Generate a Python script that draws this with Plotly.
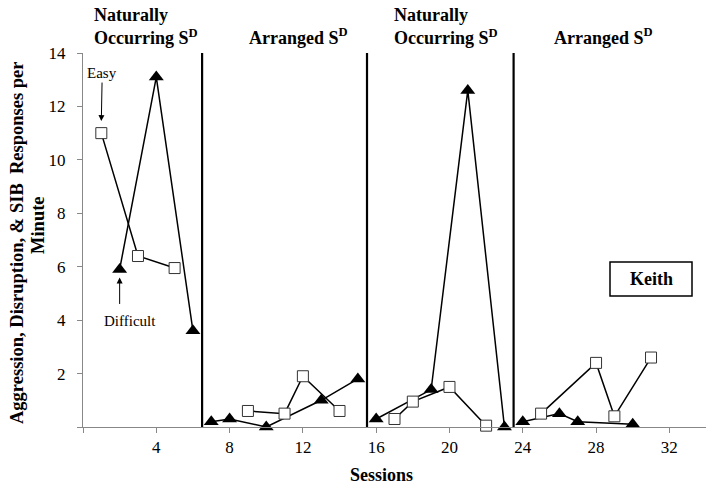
import plotly.graph_objects as go

# ---- data ----
easy_sessions = [1, 3, 5, None, 9, 11, 12, 14, None, 17, 18, 20, 22, None, 25, 28, 29, 31]
easy_rates = [11.0, 6.4, 5.95, None, 0.6, 0.5, 1.9, 0.6, None, 0.3, 0.95, 1.5, 0.05, None, 0.5, 2.4, 0.4, 2.6]

difficult_sessions = [2, 4, 6, None, 7, 8, 10, 13, 15, None, 16, 19, 21, 23, None, 24, 26, 27, 30]
difficult_rates = [5.9, 13.1, 3.6, None, 0.2, 0.3, 0.0, 1.0, 1.8, None, 0.3, 1.4, 12.6, 0.0, None, 0.2, 0.5, 0.2, 0.1]

phase_change_sessions = [6.5, 15.5, 23.5]
phase_labels = ["Naturally<br>Occurring S<sup>D</sup>", "Arranged S<sup>D</sup>",
                "Naturally<br>Occurring S<sup>D</sup>", "Arranged S<sup>D</sup>"]

x_tickvals = [0, 4, 8, 12, 16, 20, 24, 28, 32]
x_ticktext = ["", "4", "8", "12", "16", "20", "24", "28", "32"]
y_tickvals = [0, 2, 4, 6, 8, 10, 12, 14]
y_ticktext = ["", "2", "4", "6", "8", "10", "12", "14"]

y_title_lines = ["Aggression, Disruption, & SIB  Responses per", "Minute"]
x_title = "Sessions"

# ---- layout helpers ----
W, H = 714, 488
ML, MR, MT, MB = 83, 8, 53, 61
PW, PH = W - ML - MR, H - MT - MB


def px_x(p):
    return (p - ML) / PW


def px_y(p):
    return (H - MB - p) / PH


FONT = "Liberation Serif"

fig = go.Figure()

fig.add_trace(go.Scatter(
    x=difficult_sessions, y=difficult_rates, mode="lines+markers",
    line=dict(color="black", width=1.5),
    marker=dict(symbol="triangle-up", size=13, color="black"),
    cliponaxis=False, showlegend=False, connectgaps=False,
))
fig.add_trace(go.Scatter(
    x=easy_sessions, y=easy_rates, mode="lines+markers",
    line=dict(color="black", width=1.5),
    marker=dict(symbol="square", size=11, color="white", line=dict(color="#333", width=1)),
    cliponaxis=False, showlegend=False, connectgaps=False,
))

for xv in phase_change_sessions:
    fig.add_shape(type="line", x0=xv, x1=xv, y0=0, y1=14, xref="x", yref="y",
                  line=dict(color="black", width=2.2))

annotations = []
# phase headers
header_pos = [(92, "multi"), (247, "single"), (392, "multi"), (552, "single")]
for (xp, kind), label in zip(header_pos, phase_labels):
    if kind == "multi":
        annotations.append(dict(text="<b>" + label + "</b>", x=px_x(xp), y=px_y(50),
                                xref="paper", yref="paper", xanchor="left", yanchor="bottom",
                                align="left", showarrow=False,
                                font=dict(family=FONT, size=18, color="black")))
    else:
        annotations.append(dict(text="<b>" + label + "</b>", x=px_x(xp), y=px_y(36),
                                xref="paper", yref="paper", xanchor="left", yanchor="middle",
                                align="left", showarrow=False,
                                font=dict(family=FONT, size=18, color="black")))

# Easy / Difficult arrows
annotations.append(dict(text="Easy", x=1, y=11.45, xref="x", yref="y",
                        ax=1.05, ay=13.25, axref="x", ayref="y", showarrow=True,
                        arrowhead=2, arrowsize=1.2, arrowwidth=1, arrowcolor="black",
                        font=dict(family=FONT, size=15, color="black")))
annotations.append(dict(text="Difficult", x=2.55, y=3.97, xref="x", yref="y",
                        showarrow=False, xanchor="center", yanchor="middle",
                        font=dict(family=FONT, size=15, color="black")))
annotations.append(dict(text="", x=2, y=5.6, xref="x", yref="y",
                        ax=2, ay=4.55, axref="x", ayref="y", showarrow=True,
                        arrowhead=2, arrowsize=1.2, arrowwidth=1, arrowcolor="black"))

# Keith box
fig.add_shape(type="rect", x0=px_x(610), x1=px_x(692), y0=px_y(296), y1=px_y(262),
              xref="paper", yref="paper", line=dict(color="black", width=1.5),
              fillcolor="white")
annotations.append(dict(text="<b>Keith</b>", x=px_x(651), y=px_y(279), xref="paper", yref="paper",
                        xanchor="center", yanchor="middle",
                        showarrow=False, font=dict(family=FONT, size=18, color="black")))

# y title (two lines placed separately for tight spacing)
for (xp, yp), line in zip([(17, 243), (38, 225)], y_title_lines):
    annotations.append(dict(text="<b>" + line + "</b>",
                            x=px_x(xp), y=px_y(yp), xref="paper", yref="paper",
                            xanchor="center", yanchor="middle",
                            textangle=-90, showarrow=False,
                            font=dict(family=FONT, size=18.5, color="black")))

# x title
annotations.append(dict(text="<b>" + x_title + "</b>", x=px_x(381), y=px_y(475),
                        xref="paper", yref="paper", xanchor="center", yanchor="middle",
                        showarrow=False, font=dict(family=FONT, size=18, color="black")))

fig.update_layout(
    width=W, height=H,
    margin=dict(l=ML, r=MR, t=MT, b=MB, autoexpand=False),
    paper_bgcolor="white", plot_bgcolor="white",
    font=dict(family=FONT, size=16, color="black"),
    annotations=annotations,
    xaxis=dict(range=[0, 34], tickvals=x_tickvals, ticktext=x_ticktext,
               showgrid=False, zeroline=False, showline=True, linecolor="#888",
               linewidth=1, ticks="outside", ticklen=5, tickcolor="#888",
               tickfont=dict(family=FONT, size=17, color="black")),
    yaxis=dict(range=[0, 14], tickvals=y_tickvals, ticktext=y_ticktext,
               showgrid=False, zeroline=False, showline=True, linecolor="#888",
               linewidth=1, ticks="outside", ticklen=5, tickcolor="#888",
               ticklabelstandoff=8,
               tickfont=dict(family=FONT, size=17, color="black")),
)

fig.write_html("out.html", config={"displayModeBar": False},
               post_script="document.body.style.margin='0px';")
